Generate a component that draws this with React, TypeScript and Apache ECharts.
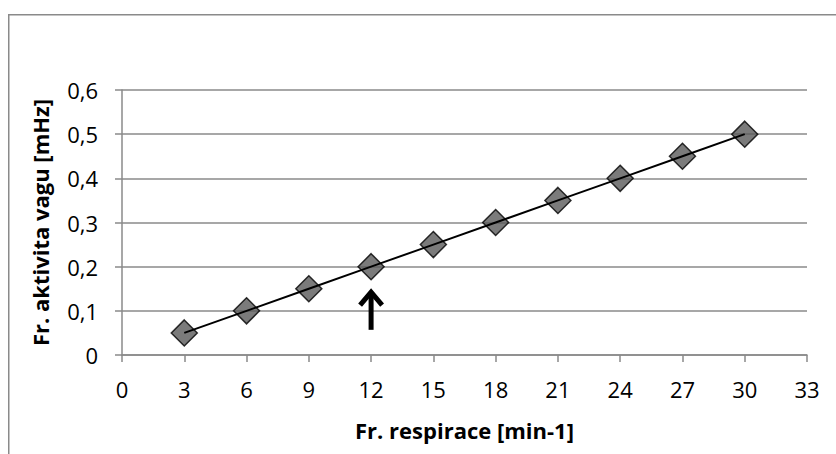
import React, { useEffect, useRef } from "react";
import * as echarts from "echarts";

const respirationRates = [3, 6, 9, 12, 15, 18, 21, 24, 27, 30];
const vagalActivity = [0.05, 0.1, 0.15, 0.2, 0.25, 0.3, 0.35, 0.4, 0.45, 0.5];
const arrowX = [12];
const arrowFrom = [0.057];
const arrowTo = [0.147];

const FONT = "'Open Sans', Lato, sans-serif";
const GRID = "#8a8a8a";

export default function App() {
  const ref = useRef<HTMLDivElement>(null);
  useEffect(() => {
    if (!ref.current) return;
    const chart = echarts.init(ref.current, undefined, { renderer: "svg" });
    const points = respirationRates.map((x, i) => [x, vagalActivity[i]]);
    const arrows = arrowX.map((x, i) => [x, arrowFrom[i], arrowTo[i]]);
    chart.setOption({
      animation: false,
      backgroundColor: "#ffffff",
      graphic: [
        {
          type: "rect",
          shape: { x: 8.75, y: 14.75, width: 900, height: 600 },
          style: { fill: "none", stroke: GRID, lineWidth: 1.5 },
          silent: true,
        },
      ],
      grid: { left: 122, right: 29, top: 90, bottom: 99 },
      xAxis: {
        type: "value",
        min: 0,
        max: 33,
        interval: 3,
        name: "Fr. respirace [min-1]",
        nameLocation: "middle",
        nameGap: 64,
        nameTextStyle: { fontFamily: FONT, fontSize: 22, fontWeight: "bold", color: "#000" },
        axisLine: { show: true, lineStyle: { color: GRID, width: 1.5 } },
        axisTick: { show: true, length: 7, lineStyle: { color: GRID, width: 1.5 } },
        axisLabel: { fontFamily: FONT, fontSize: 22, color: "#000", margin: 23 },
        splitLine: { show: false },
      },
      yAxis: {
        type: "value",
        min: 0,
        max: 0.6,
        interval: 0.1,
        name: "Fr. aktivita vagu [mHz]",
        nameLocation: "middle",
        nameGap: 71,
        nameTextStyle: { fontFamily: FONT, fontSize: 22, fontWeight: "bold", color: "#000" },
        axisLine: { show: true, lineStyle: { color: GRID, width: 1.5 } },
        axisTick: { show: true, length: 7, lineStyle: { color: GRID, width: 1.5 } },
        axisLabel: {
          fontFamily: FONT,
          fontSize: 22,
          color: "#000",
          margin: 24,
          formatter: (v: number) => (v === 0 ? "0" : v.toFixed(1).replace(".", ",")),
        },
        splitLine: { show: true, lineStyle: { color: GRID, width: 1.5 } },
      },
      series: [
        {
          type: "scatter",
          data: points,
          symbol: "diamond",
          symbolSize: [26, 26],
          itemStyle: { color: "#5a5a5a", borderColor: "#000", borderWidth: 1.5 },
          z: 2,
        },
        {
          type: "line",
          data: points,
          showSymbol: false,
          symbol: "none",
          lineStyle: { color: "#000", width: 2 },
          z: 3,
        },
        {
          type: "custom",
          data: arrows,
          z: 4,
          renderItem: (params: any, api: any) => {
            const p1 = api.coord([api.value(0), api.value(1)]);
            const p2 = api.coord([api.value(0), api.value(2)]);
            return {
              type: "group",
              children: [
                {
                  type: "line",
                  shape: { x1: p1[0], y1: p1[1], x2: p2[0], y2: p2[1] + 3 },
                  style: { stroke: "#000", lineWidth: 5 },
                },
                {
                  type: "polyline",
                  shape: {
                    points: [
                      [p2[0] - 11, p2[1] + 15],
                      [p2[0], p2[1] + 2],
                      [p2[0] + 11, p2[1] + 15],
                    ],
                  },
                  style: { stroke: "#000", lineWidth: 5, fill: "none", lineJoin: "miter" },
                },
              ],
            };
          },
        },
      ],
    });
    return () => chart.dispose();
  }, []);
  return (
    <div
      ref={ref}
      style={{ position: "fixed", left: 0, top: 0, width: 836, height: 454 }}
    />
  );
}
